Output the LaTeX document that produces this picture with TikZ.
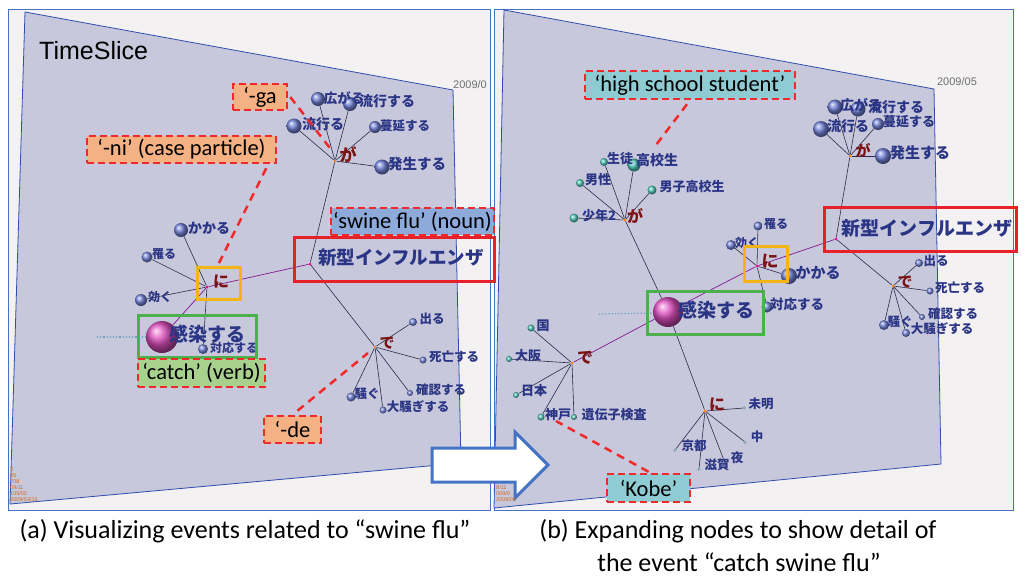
\documentclass[tikz,border=0pt]{standalone}
\usepackage{fontspec}
\newfontfamily\jpf{Noto Sans CJK JP}
\newfontfamily\calf{Carlito}
\newfontfamily\arf{Liberation Sans}
\definecolor{framebg}{HTML}{F3F1F1}
\definecolor{frameln}{HTML}{4472C4}
\definecolor{lav}{HTML}{C8C8DC}
\definecolor{quadln}{HTML}{2F4FAF}
\definecolor{navy}{HTML}{2B3585}
\definecolor{pred}{HTML}{7A1414}
\definecolor{edgec}{HTML}{2A2A4A}
\definecolor{nred}{HTML}{F02A2A}
\definecolor{salmon}{HTML}{F4B183}
\definecolor{lblue}{HTML}{8EAADB}
\definecolor{lgreen}{HTML}{A9D18E}
\definecolor{lteal}{HTML}{8FCBD3}
\definecolor{boxred}{HTML}{E8202A}
\definecolor{boxyel}{HTML}{F2B416}
\definecolor{boxgrn}{HTML}{4DB04F}
\definecolor{sphblue}{HTML}{7484DA}
\definecolor{sphteal}{HTML}{52C8B8}
\definecolor{sphpink}{HTML}{E050C0}
\definecolor{orng}{HTML}{D2691E}
\definecolor{dategray}{HTML}{707070}
\tikzset{
  sphb/.style={circle, inner sep=0pt, minimum size=#1, shading=ball, ball color=sphblue},
  spht/.style={circle, inner sep=0pt, minimum size=#1, shading=ball, ball color=sphteal},
  sphp/.style={circle, inner sep=0pt, minimum size=#1, shading=ball, ball color=sphpink},
  hubdot/.style={circle, inner sep=0pt, minimum size=3pt, fill=orange},
  edge/.style={draw=edgec, line width=0.6pt},
  pedge/.style={draw=edgec!60!magenta, line width=0.7pt},
  lb/.style={font=\jpf\bfseries\fontsize{#1}{#1}\selectfont, text=navy, inner sep=0pt},
  lb/.default=13pt,
  ptc/.style={font=\jpf\bfseries\fontsize{#1}{#1}\selectfont, text=pred, inner sep=0pt},
  ptc/.default=17pt,
  note/.style={draw=nred, line width=2.5pt, dash pattern=on 7pt off 4pt,
    font=\calf\fontsize{22.5}{22.5}\selectfont, inner sep=0pt, text=black},
  callout/.style={draw=nred, line width=2.5pt, dash pattern=on 8pt off 6pt},
  solidbox/.style={line width=3pt, inner sep=0pt},
  tiny/.style={font=\arf\fontsize{5.5}{5.5}\selectfont, text=orng, inner sep=0pt, anchor=west},
  datelbl/.style={font=\arf\fontsize{11}{11}\selectfont, text=dategray, inner sep=0pt},
  caption/.style={font=\calf\fontsize{26}{26}\selectfont, inner sep=0pt, text=black}
}
\begin{document}
\begin{tikzpicture}[x=1pt,y=-1pt]
\useasboundingbox (0,0) rectangle (1026,579);
\fill[white] (0,0) rectangle (1026,579);
% frames
\filldraw[fill=framebg, draw=frameln, line width=0.8pt] (8,9.5) rectangle (490,510);
\filldraw[fill=framebg, draw=frameln, line width=0.8pt] (494,9.5) rectangle (1013,510);
% quads
\filldraw[fill=lav, draw=quadln, line width=0.8pt] (25,12) -- (453,90) -- (461,463) -- (10,504) -- cycle;
\filldraw[fill=lav, draw=quadln, line width=0.8pt] (504,10) -- (934,89) -- (941,464) -- (494,508) -- cycle;
% dates
\node[datelbl, anchor=west] (dL) at (453,85) {2009/0};
\node[datelbl] (dR) at (957,82) {2009/05};
\node[font=\arf\fontsize{25}{25}\selectfont, inner sep=0pt, anchor=west] (ts) at (39,51) {TimeSlice};
% faded trails
\draw[cyan!50!gray, line width=1.2pt, dotted] (97,337) -- (146,337);
\draw[cyan!50!gray, line width=1.2pt, dotted] (599,314) -- (653,313);

% ---------- LEFT PANEL ----------
\node[hubdot] (gaL) at (335,161) {};
\node[hubdot, fill=magenta] (shL) at (310,264) {};
\node[hubdot, fill=magenta] (niL) at (207,287) {};
\node[hubdot] (deL) at (375,347) {};
\node[sphb=14pt] (hirL) at (318,99) {};
\node[sphb=14pt] (ryuL) at (350,104) {};
\node[sphb=15pt] (hayL) at (294,126) {};
\node[sphb=12pt] (manL) at (375,127) {};
\node[sphb=15pt] (hasL) at (382,167) {};
\node[sphb=14pt] (kakL) at (181,230) {};
\node[sphb=11pt] (kaL) at (147,257) {};
\node[sphb=12pt] (kikL) at (141,300) {};
\node[sphb=10pt] (taiL) at (203,349) {};
\node[sphb=8pt] (derL) at (413,322) {};
\node[sphb=7pt] (shiL) at (423,360) {};
\node[sphb=6pt] (kakuL) at (410,393) {};
\node[sphb=9pt] (sawL) at (351,397) {};
\node[sphb=7pt] (osaL) at (383,410) {};
\node[sphp=32pt] (kanL) at (162,337) {};
\foreach \t in {hirL,ryuL,hayL,manL,hasL} \draw[edge] (gaL) -- (\t);
\draw[edge] (gaL) -- (shL);
\draw[pedge] (shL) -- (niL);
\draw[edge] (shL) -- (deL);
\foreach \t in {kakL,kaL,kikL,taiL} \draw[edge] (niL) -- (\t);
\draw[pedge] (niL) -- (kanL);
\foreach \t in {derL,shiL,kakuL,sawL,osaL} \draw[edge] (deL) -- (\t);
% labels left
\node[lb=13.5pt] (lhirL) at (344,98) {広がる};
\node[lb=14pt] (lryuL) at (387,101) {流行する};
\node[lb=14pt] (lhayL) at (323,124) {流行る};
\node[lb=12.5pt] (lmanL) at (405,126) {蔓延する};
\node[lb=14.5pt] (lhasL) at (417,164) {発生する};
\node[lb=14pt] (lkakL) at (209,228) {かかる};
\node[lb=12pt] (lkaL) at (164,254) {罹る};
\node[lb=12pt] (lkikL) at (160,297) {効く};
\node[lb=12pt] (ltaiL) at (234,348) {対応する};
\node[lb=12.5pt] (lderL) at (432,319) {出る};
\node[lb=12.5pt] (lshiL) at (454,357) {死亡する};
\node[lb=12.5pt] (lkakuL) at (441,390) {確認する};
\node[lb=12.5pt] (lsawL) at (367,394) {騒ぐ};
\node[lb=12.5pt] (losaL) at (418,407) {大騒ぎする};
\node[ptc=17pt] (pgaL) at (348,155) {が};
\node[ptc=16pt] (pniL) at (221,282) {に};
\node[ptc=15pt] (pdeL) at (387,343) {で};
\node[lb=18.5pt] (lshL) at (401,258) {新型インフルエンザ};
\node[lb=19pt] (lkanL) at (207,334) {感染する};
% boxes left
\draw[boxred, solidbox] (294,237) rectangle (494,281);
\draw[boxyel, solidbox] (197,267) rectangle (240,299);
\draw[boxgrn, solidbox] (138,315) rectangle (256,357);
\node[note, fill=salmon, minimum width=54pt, minimum height=26pt] (nga) at (260,97) {‘-ga};
\node[note, fill=salmon, minimum width=189pt, minimum height=27pt] (nni) at (181.5,149.5) {‘-ni’ (case particle)};
\node[note, fill=lblue, minimum width=163pt, minimum height=27pt] (nsw) at (412.5,221.5) {‘swine flu’ (noun)};
\node[note, fill=lgreen, minimum width=127pt, minimum height=28pt] (nca) at (201.5,373) {‘catch’ (verb)};
\node[note, fill=salmon, minimum width=57pt, minimum height=27pt] (nde) at (292.5,429.5) {‘-de};
\coordinate (cgaE) at (333,152);
\coordinate (cniE) at (217,267);
\coordinate (cdeE) at (368,353);
\draw[callout] (nga.east) ++(2,0) -- (cgaE);
\draw[callout] (nni.south east) ++(-11,4) -- (cniE);
\draw[callout] (nde.north) ++(5,-4) -- (cdeE);

% ---------- RIGHT PANEL ----------
\node[hubdot] (gaR) at (850,156) {};
\node[hubdot, fill=magenta] (shR) at (836,239) {};
\node[hubdot, fill=magenta] (niR) at (757,266) {};
\node[hubdot] (ga2) at (625,220) {};
\node[hubdot] (de2) at (572,363) {};
\node[hubdot] (ni2) at (705,411) {};
\node[hubdot] (deR) at (893,286) {};
\node[sphb=15pt] (hirR) at (835,107) {};
\node[sphb=15pt] (ryuR) at (858,109) {};
\node[sphb=16pt] (hayR) at (821,129) {};
\node[sphb=12pt] (manR) at (878,124) {};
\node[sphb=16pt] (hasR) at (883,156) {};
\node[spht=8pt] (seiR) at (604,162) {};
\node[spht=13pt] (kouR) at (634,165) {};
\node[spht=8pt] (danR) at (580,183) {};
\node[spht=9pt] (dshR) at (652,190) {};
\node[spht=9pt] (shoR) at (574,218) {};
\node[sphb=9pt] (kaR) at (758,226) {};
\node[sphb=10pt] (kikR) at (731,245) {};
\node[sphb=16pt] (kakR) at (789,276) {};
\node[sphb=11pt] (taiR) at (767,307) {};
\node[spht=7pt] (kuni) at (531,328) {};
\node[spht=6pt] (osak) at (509,359) {};
\node[spht=6pt] (niho) at (516,395) {};
\node[spht=7pt] (kobe) at (541,417) {};
\node[spht=6pt] (iden) at (574,417) {};
\node[spht=3pt] (mime) at (744,408) {};
\node[spht=3pt] (naka) at (745,442) {};
\node[spht=3pt] (kyot) at (675,450) {};
\node[spht=3pt] (shig) at (699,469) {};
\node[spht=3pt] (yoru) at (725,463) {};
\node[sphb=8pt] (derR) at (919,263) {};
\node[sphb=7pt] (shiR) at (930,291) {};
\node[sphb=6pt] (kakuR) at (922,317) {};
\node[sphb=10pt] (sawR) at (884,325) {};
\node[sphb=8pt] (osaR) at (906,333) {};
\node[sphp=30pt] (kanR) at (668,312) {};
\foreach \t in {hirR,ryuR,hayR,manR,hasR} \draw[edge] (gaR) -- (\t);
\draw[edge] (gaR) -- (shR);
\draw[pedge] (shR) -- (niR);
\draw[edge] (shR) -- (deR);
\foreach \t in {kaR,kikR,kakR,taiR} \draw[edge] (niR) -- (\t);
\draw[pedge] (niR) -- (kanR);
\draw[edge] (kanR) -- (ga2);
\draw[pedge] (kanR) -- (de2);
\draw[edge] (kanR) -- (ni2);
\foreach \t in {seiR,kouR,danR,dshR,shoR} \draw[edge] (ga2) -- (\t);
\foreach \t in {kuni,osak,niho,kobe,iden} \draw[edge] (de2) -- (\t);
\foreach \t in {mime,naka,kyot,shig,yoru} \draw[edge] (ni2) -- (\t);
\foreach \t in {derR,shiR,kakuR,sawR,osaR} \draw[edge] (deR) -- (\t);
% labels right
\node[lb=14pt] (lhirR) at (861,105) {広がる};
\node[lb=14pt] (lryuR) at (896,107) {流行する};
\node[lb=14pt] (lhayR) at (848,126) {流行る};
\node[lb=13pt] (lmanR) at (909,122) {蔓延する};
\node[lb=15pt] (lhasR) at (920,153) {発生する};
\node[lb=13pt] (lseiR) at (620,159) {生徒};
\node[lb=14pt] (lkouR) at (657,160) {高校生};
\node[lb=13pt] (ldanR) at (598,180) {男性};
\node[lb=13pt] (ldshR) at (692,187) {男子高校生};
\node[lb=13pt] (lshoR) at (599,216) {少年2};
\node[lb=12pt] (lkaR) at (776,224) {罹る};
\node[lb=12pt] (lkikR) at (747,243) {効く};
\node[lb=15pt] (lkakR) at (818,273) {かかる};
\node[lb=13.5pt] (ltaiR) at (797,304) {対応する};
\node[lb=13pt] (lkuni) at (543,326) {国};
\node[lb=13pt] (losak) at (528,356) {大阪};
\node[lb=13pt] (lniho) at (534,391) {日本};
\node[lb=13pt] (lkobe) at (558,415) {神戸};
\node[lb=13pt] (liden) at (614,415) {遺伝子検査};
\node[lb=12.5pt] (lmime) at (761,404) {未明};
\node[lb=12.5pt] (lnaka) at (757,437) {中};
\node[lb=12.5pt] (lkyot) at (694,446) {京都};
\node[lb=12.5pt] (lshig) at (717,465) {滋賀};
\node[lb=12.5pt] (lyoru) at (737,458) {夜};
\node[lb=12.5pt] (lderR) at (936,261) {出る};
\node[lb=12.5pt] (lshiR) at (960,288) {死亡する};
\node[lb=12.5pt] (lkakuR) at (953,314) {確認する};
\node[lb=12.5pt] (lsawR) at (900,322) {騒ぐ};
\node[lb=12.5pt] (losaR) at (942,329) {大騒ぎする};
\node[ptc=15pt] (pgaR) at (863,150) {が};
\node[ptc=16pt] (pga2) at (635,216) {が};
\node[ptc=17pt] (pniR) at (770,261) {に};
\node[ptc=16pt] (pde2) at (585,358) {で};
\node[ptc=16pt] (pni2) at (717,405) {に};
\node[ptc=15pt] (pdeR) at (905,282) {で};
\node[lb=19pt] (lshR) at (927,228) {新型インフルエンザ};
\node[lb=19pt] (lkanR) at (716,310) {感染する};
% boxes right
\draw[boxred, solidbox] (824,207) rectangle (1016,251);
\draw[boxyel, solidbox] (744,246) rectangle (787,281);
\draw[boxgrn, solidbox] (647,291) rectangle (763,334);
\node[note, fill=lteal, minimum width=210pt, minimum height=28pt] (nhs) at (690,85) {‘high school student’};
\node[note, fill=lteal, minimum width=83pt, minimum height=28pt] (nkb) at (648.5,488) {‘Kobe’};
\coordinate (chsE) at (656,145);
\coordinate (ckbE) at (556,421);
\draw[callout] (nhs.south) ++(-3,4) -- (chsE);
\draw[callout] (nkb.north) ++(0,-1) -- (ckbE);

% arrow
\filldraw[fill=white, draw=frameln, line width=3pt, line join=miter]
  (432,448) -- (515,448) -- (515,432) -- (548,465) -- (515,498) -- (515,482) -- (432,482) -- cycle;

% tiny date marks
\node[tiny] (t1) at (10,470) {3};
\node[tiny] (t2) at (10,476) {05};
\node[tiny] (t3) at (10,482) {708};
\node[tiny] (t4) at (10,488) {09/11};
\node[tiny] (t5) at (10,494) {109/02};
\node[tiny] (t6) at (10,500) {2009/03/15};
\node[tiny] (r1) at (496,488) {8/11};
\node[tiny] (r2) at (496,494) {009/0};
\node[tiny] (r3) at (496,500) {2009/05};

% captions
\node[caption] (capa) at (245,531) {(a) Visualizing events related to “swine flu”};
\node[caption] (capb1) at (738,531) {(b) Expanding nodes to show detail of};
\node[caption] (capb2) at (739,562) {the event “catch swine flu”};
\end{tikzpicture}
\end{document}
